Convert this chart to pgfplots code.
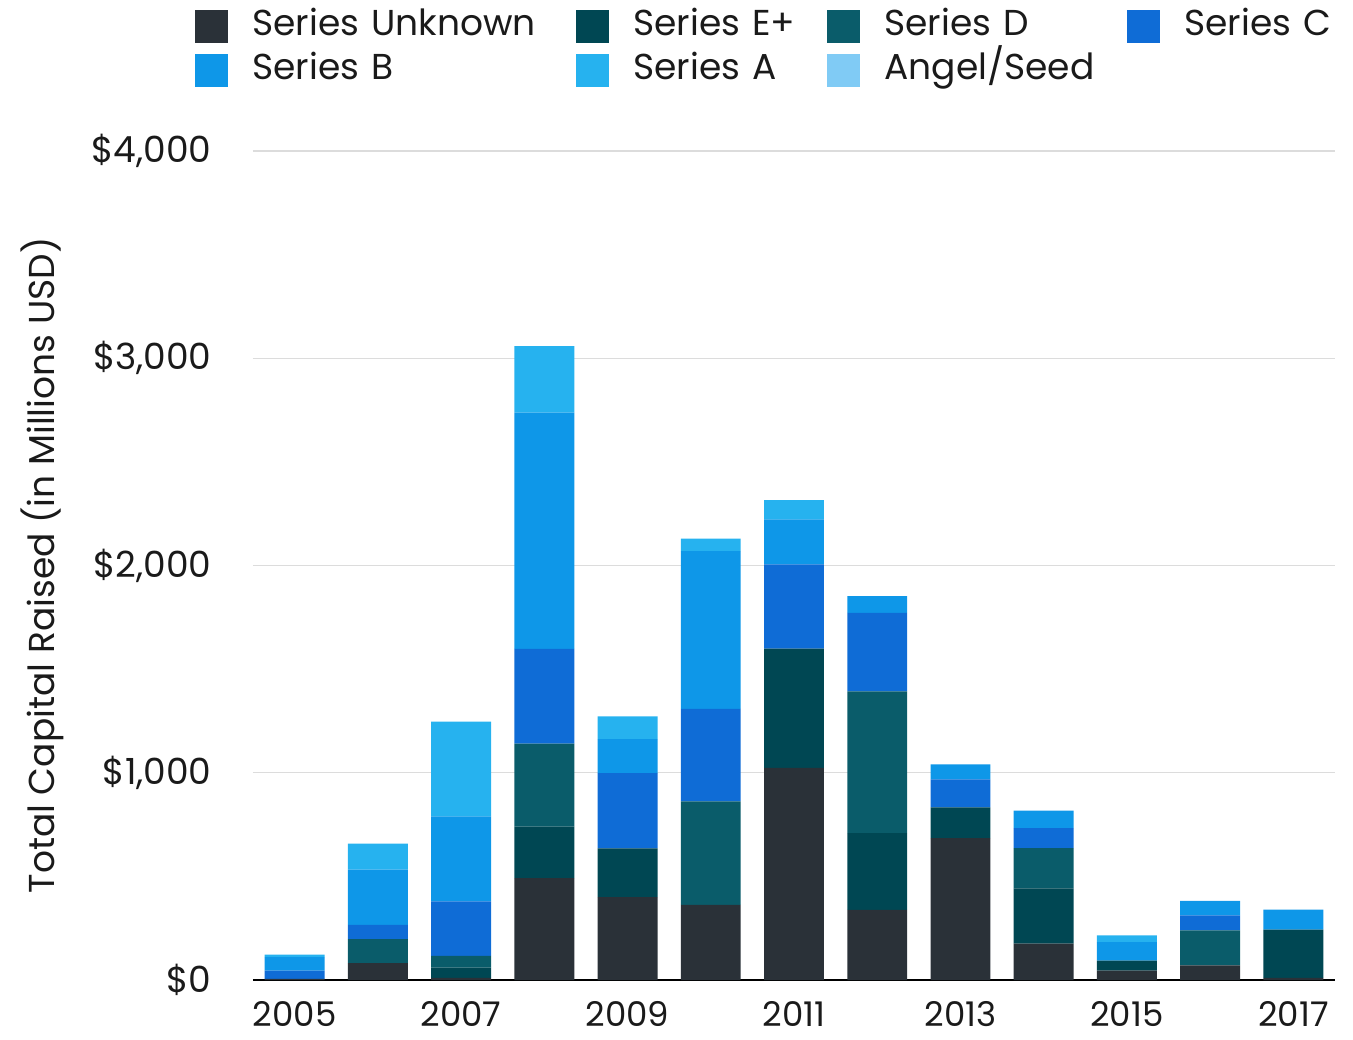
\documentclass[border=0pt]{standalone}
\usepackage{pgfplots}
\usepackage{pgfplotstable}
\usepackage{fontspec}
\setmainfont{Poppins}
\pgfplotsset{compat=1.18}

\definecolor{cUnk}{HTML}{2A3138}
\definecolor{cEp}{HTML}{004753}
\definecolor{cD}{HTML}{0A5C6A}
\definecolor{cC}{HTML}{0F6CD6}
\definecolor{cB}{HTML}{0E97E8}
\definecolor{cA}{HTML}{26B2EF}
\definecolor{cAng}{HTML}{80CBF5}
\definecolor{txt}{HTML}{1A1A1A}
\definecolor{grid}{HTML}{DCDCDC}

% capital raised per year (millions USD), by round
\pgfplotstableread{
x unk ep d c b a ang
0 5 0 0 40 65 12 0
1 81 0 116 69 266 126 0
2 10 50 56 263 411 457 0
3 491 249 400 458 1140 321 0
4 400 235 0 363 164 110 0
5 362 0 500 446 761 61 0
6 1023 576 0 406 217 94 0
7 338 371 684 378 81 0 0
8 684 149 0 135 72 0 0
9 175 267 194 97 84 0 0
10 45 49 0 0 89 32 0
11 70 0 170 72 70 0 0
12 10 233 0 0 97 0 0
}\capdata

\begin{document}
\fontsize{18}{21}\selectfont
\begin{tikzpicture}
\useasboundingbox (-126.5pt,-29.5pt) rectangle (550pt,490pt);
\begin{axis}[
  at={(0,0)}, anchor=south west,
  scale only axis, width=541pt, height=414.5pt,
  font=\fontsize{18}{21}\selectfont,
  ybar stacked, bar width=0.72,
  xmin=-0.5, xmax=12.5, ymin=0, ymax=4000,
  axis x line*=bottom, axis y line*=left,
  x axis line style={draw=black, line width=1.3pt, -},
  y axis line style={draw=none},
  xtick={0,2,...,12},
  xticklabels={2005,2007,2009,2011,2013,2015,2017},
  xtick style={draw=none},
  xticklabel style={inner sep=0pt, anchor=north, yshift=-10.5pt, text depth=0pt,
    text=txt, font=\fontsize{17}{20}\selectfont},
  ytick={0,1000,2000,3000,4000},
  yticklabels={{\$0},{\$1,000},{\$2,000},{\$3,000},{\$4,000}},
  ymajorgrids, grid style={draw=grid, line width=0.6pt},
  ytick style={draw=none},
  yticklabel style={inner sep=0pt, anchor=east, text=txt},
  every y tick label/.append style={xshift=-20.5pt},
  ylabel={Total Capital Raised (in Millions USD)},
  ylabel style={at={(axis description cs:-0.195,0.5)}, rotate=0, anchor=center, text=txt, inner sep=0pt},
  legend columns=4,
  legend cell align=left,
  legend image code/.code={\fill[#1] (0pt,-8.25pt) rectangle (16.5pt,8.25pt);},
  legend style={at={(axis description cs:0,1)}, anchor=north west,
    xshift=-29pt, yshift=71pt, draw=none, fill=none, inner sep=0pt,
    row sep=5pt, text=txt,
    nodes={inner sep=0pt, anchor=west, text height=13pt, text depth=4pt},
    /tikz/every odd column/.append style={column sep=12pt},
    /tikz/every even column/.append style={column sep=0pt},
    /tikz/column 2/.style={nodes={text width=162pt, align=left}},
    /tikz/column 4/.style={nodes={text width=97pt, align=left}},
    /tikz/column 6/.style={nodes={text width=121.5pt, align=left}},
    /tikz/column 8/.style={nodes={text width=80pt, align=left}}},
  clip=false,
]
\addplot[fill=cUnk, draw=none] table[x=x, y=unk] {\capdata};
\addplot[fill=cEp, draw=none] table[x=x, y=ep] {\capdata};
\addplot[fill=cD, draw=none] table[x=x, y=d] {\capdata};
\addplot[fill=cC, draw=none] table[x=x, y=c] {\capdata};
\addplot[fill=cB, draw=none] table[x=x, y=b] {\capdata};
\addplot[fill=cA, draw=none] table[x=x, y=a] {\capdata};
\addplot[fill=cAng, draw=none] table[x=x, y=ang] {\capdata};
\legend{Series Unknown, Series E+, Series D, Series C, Series B, Series A, Angel/Seed}
\end{axis}
\end{tikzpicture}
\end{document}
